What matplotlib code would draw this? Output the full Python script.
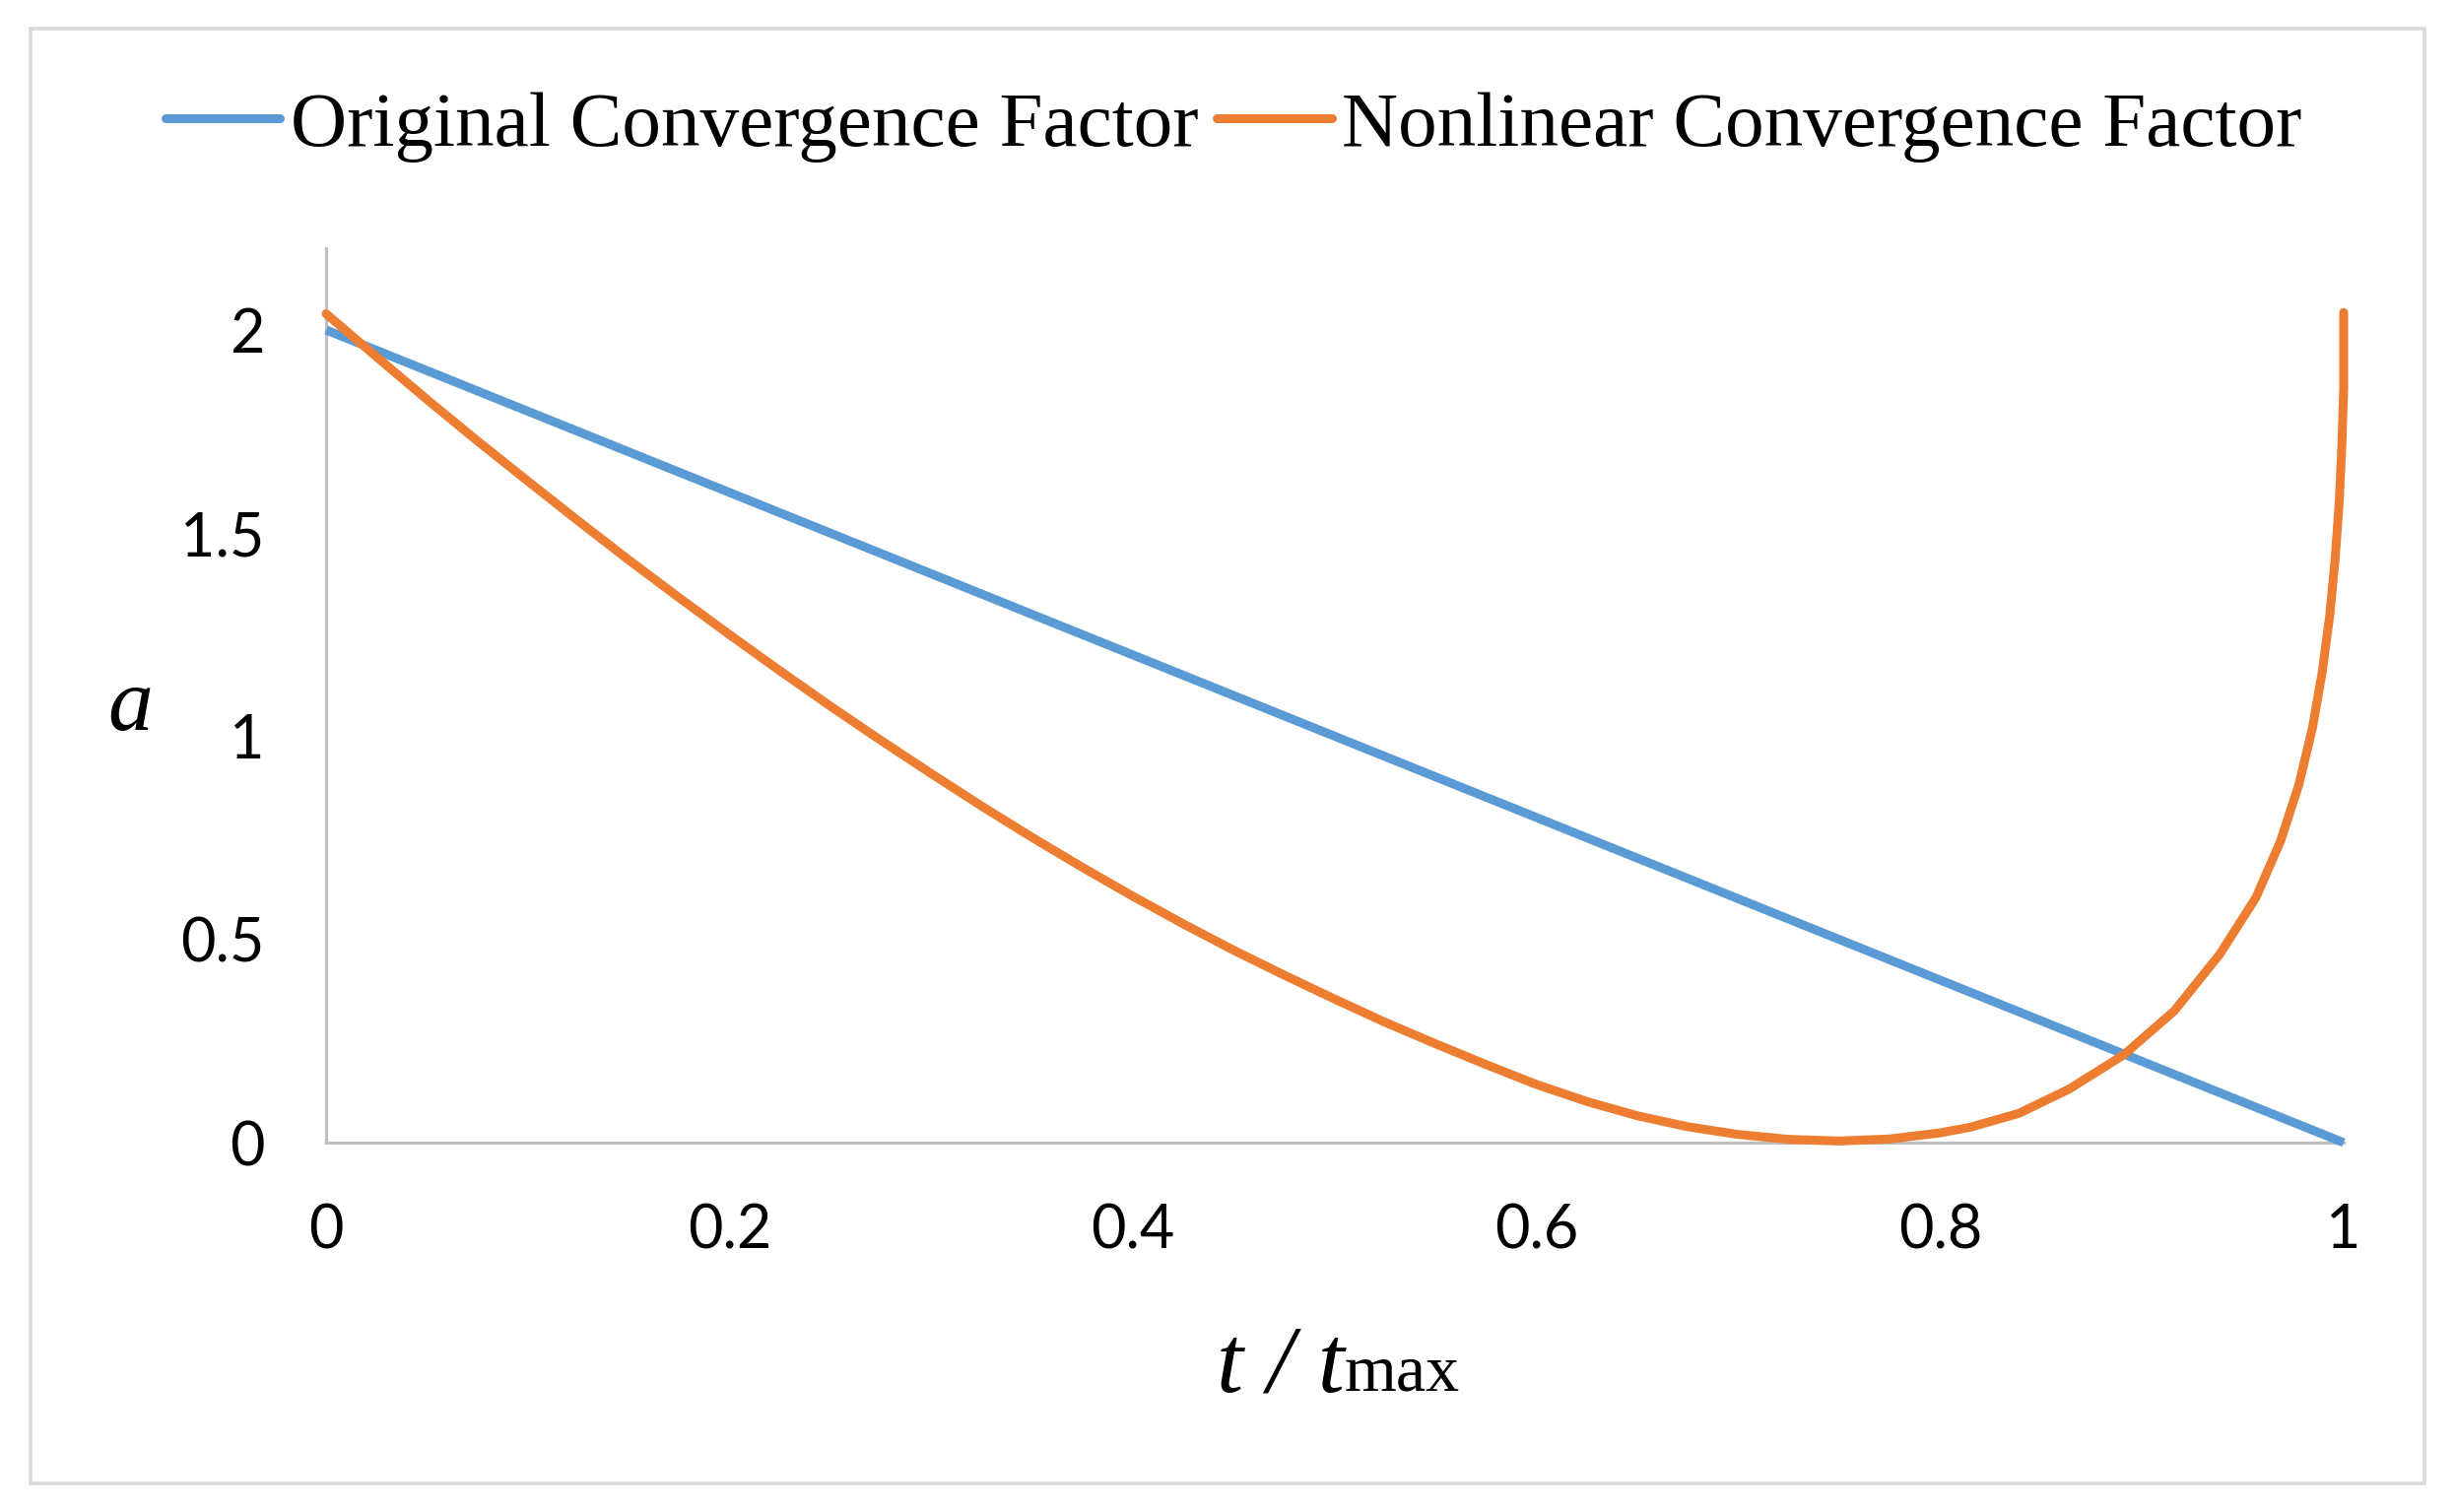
import matplotlib
matplotlib.use("Agg")
import matplotlib.pyplot as plt
from matplotlib.patches import Rectangle

# ---------------- data ----------------
orig_x = [0.0, 1.0]
orig_y = [2.0, 0.0]

nonlin_x = [0.000, 0.025, 0.050, 0.075, 0.100, 0.125, 0.150, 0.175, 0.200, 0.225,
            0.250, 0.275, 0.300, 0.325, 0.350, 0.375, 0.400, 0.425, 0.450, 0.475,
            0.500, 0.525, 0.550, 0.575, 0.600, 0.625, 0.650, 0.675, 0.700, 0.725,
            0.750, 0.775, 0.800, 0.815, 0.839, 0.864, 0.891, 0.916, 0.9385, 0.9565,
            0.9687, 0.9778, 0.9845, 0.9894, 0.9931, 0.9958, 0.9978, 0.9991, 1.000,
            1.000]
nonlin_y = [2.040, 1.934, 1.829, 1.727, 1.628, 1.530, 1.434, 1.341, 1.250, 1.161,
            1.074, 0.990, 0.908, 0.828, 0.751, 0.677, 0.606, 0.538, 0.473, 0.412,
            0.353, 0.296, 0.243, 0.192, 0.143, 0.101, 0.066, 0.039, 0.020, 0.008,
            0.004, 0.009, 0.024, 0.038, 0.072, 0.132, 0.216, 0.324, 0.463, 0.603,
            0.742, 0.881, 1.020, 1.159, 1.298, 1.438, 1.577, 1.716, 1.855,
            2.043]

series_labels = ["Original Convergence Factor", "Nonlinear Convergence Factor"]
x_ticks = [0, 0.2, 0.4, 0.6, 0.8, 1]
x_ticklabels = ["0", "0.2", "0.4", "0.6", "0.8", "1"]
y_ticks = [0, 0.5, 1, 1.5, 2]
y_ticklabels = ["0", "0.5", "1", "1.5", "2"]

# ---------------- figure ----------------
W, H = 2492, 1535
fig = plt.figure(figsize=(W / 100, H / 100), dpi=100)
fig.patch.set_facecolor("white")

def fx(px):
    return px / W

def fy(py):
    return 1 - py / H

# outer border
fig.patches.append(Rectangle((fx(31), fy(1506)), fx(2461) - fx(31), fy(29) - fy(1506),
                             transform=fig.transFigure, fill=False,
                             edgecolor="#D9D9D9", linewidth=2.6, zorder=0))

ax = fig.add_axes([fx(331), fy(1160), fx(2379) - fx(331), fy(252.5) - fy(1160)])
ax.set_xlim(0, 1)
ax.set_ylim(0, 2.2)

BLUE = "#5B9BD5"
ORANGE = "#ED7D31"
lw = 6.5
ax.plot(orig_x, orig_y, color=BLUE, lw=lw, label=series_labels[0],
        clip_on=False, zorder=3, solid_capstyle="butt")
ax.plot(nonlin_x, nonlin_y, color=ORANGE, lw=lw, label=series_labels[1],
        clip_on=False, zorder=4, solid_capstyle="round", solid_joinstyle="round")

for s in ["top", "right"]:
    ax.spines[s].set_visible(False)
for s in ["left", "bottom"]:
    ax.spines[s].set_color("#BFBFBF")
    ax.spines[s].set_linewidth(2.3)
    ax.spines[s].set_zorder(1)

tick_font = dict(family="Lato", size=44)
ax.set_xticks(x_ticks)
ax.set_xticklabels(x_ticklabels, fontdict=tick_font)
ax.set_yticks(y_ticks)
ax.set_yticklabels(y_ticklabels, fontdict=tick_font)
ax.tick_params(axis="both", length=0, colors="black")
ax.tick_params(axis="x", pad=44)
ax.tick_params(axis="y", pad=45)

# legend
leg = ax.legend(loc="center", bbox_to_anchor=(fx(1252), fy(129)),
                bbox_transform=fig.transFigure, ncol=2, frameon=False,
                prop=dict(family="Liberation Serif", size=57),
                handlelength=1.47, handletextpad=0.13, columnspacing=0.24,
                borderaxespad=0, borderpad=0)
for h in leg.get_lines():
    h.set_linewidth(lw)
    h.set_solid_capstyle("round")

# y label
fig.text(fx(132), fy(741), "a", family="Liberation Serif", style="italic",
         size=66, ha="center", va="baseline")

# x label: italic "t / t" followed by smaller upright "max"
t1 = fig.text(0, fy(1412), "t / t", family="Liberation Serif", style="italic",
              size=70, ha="left", va="baseline")
t2 = fig.text(0, fy(1412), "max", family="Liberation Serif", size=49,
              ha="left", va="baseline")
fig.canvas.draw()
r = fig.canvas.get_renderer()
w1 = t1.get_window_extent(r).width
w2 = t2.get_window_extent(r).width
total = w1 + w2
start = 1358 - total / 2
t1.set_x(fx(start))
t2.set_x(fx(start + w1))

fig.savefig("out.png", dpi=100, facecolor="white")
